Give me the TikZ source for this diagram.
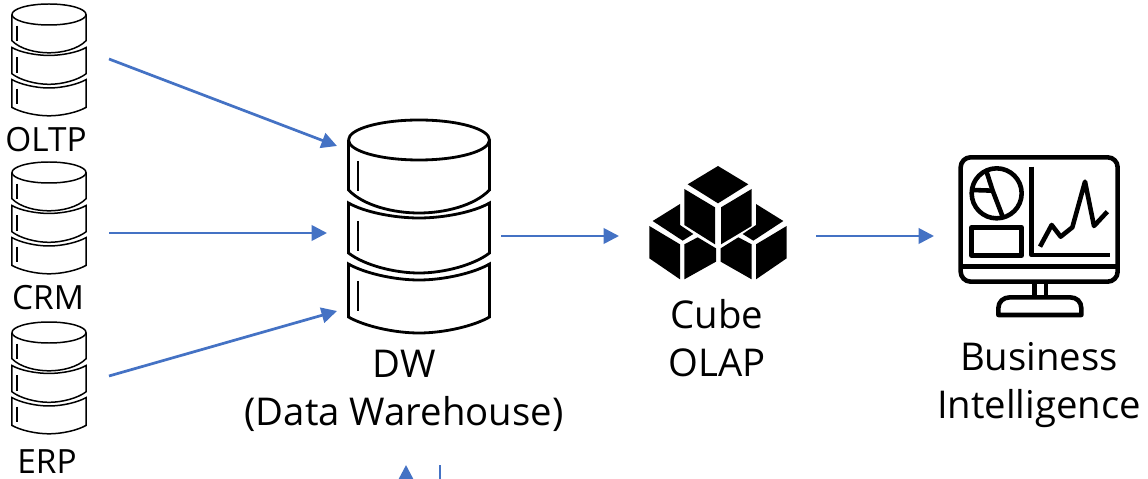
\documentclass[tikz,border=0pt]{standalone}
\usepackage{fontspec}
\setmainfont{Open Sans}
\usetikzlibrary{arrows.meta}
\definecolor{linkblue}{HTML}{4472C4}
\tikzset{
  link/.style={linkblue, line width=1.55pt, -{Triangle[length=.31cm, width=.31cm]}},
  biglabel/.style={font=\fontsize{21.8pt}{27.2pt}\selectfont, align=center, inner sep=0pt},
  smalllabel/.style={font=\fontsize{19pt}{22pt}\selectfont, inner sep=0pt, text depth=0pt},
  screen/.style={line width=2.6pt, line join=round},
  dbstack/.pic={
    \draw (-70.5,0) arc (180:-180:70.5 and 20);  %top
    \draw (-70.5,0) -- (-70.5,50) .. controls (-55,66) and (-25,73) .. (0,73) .. controls (25,73) and (55,66) .. (70.5,50) -- (70.5,0);
    \draw (-70.5,63) .. controls (-55,72) and (-25,78) .. (0,78) .. controls (25,78) and (55,72) .. (70.5,63) -- (70.5,113) .. controls (55,125) and (25,133) .. (0,133) .. controls (-25,133) and (-55,125) .. (-70.5,113) -- cycle;
    \draw (-70.5,124) .. controls (-55,133) and (-25,140) .. (0,140) .. controls (25,140) and (55,133) .. (70.5,124) -- (70.5,177) .. controls (55,186) and (25,193) .. (0,193) .. controls (-25,193) and (-55,186) .. (-70.5,177) -- cycle;
    \foreach \y in {21,81,141}
      \draw (-61,\y) -- (-61,\y+30);  %ticks
  }
}
\begin{document}
\begin{tikzpicture}[x=.02cm, y=-.02cm]
  \useasboundingbox (0,0) rectangle (1148,479);
  \clip (0,0) rectangle (1148,479);

  \pic[scale=.525, line width=.85pt] at (49,14.5) {dbstack};
  \pic[scale=.525, line width=.85pt] at (49,172.5) {dbstack};
  \pic[scale=.525, line width=.85pt] at (49,332.5) {dbstack};
  \pic[line width=1.6pt] at (419,140) {dbstack};

  \node[smalllabel] (oltp) at (46,139) {OLTP};
  \node[smalllabel] (crm) at (48,297) {CRM};
  \node[smalllabel] (erp) at (47,462) {ERP};
  \node[biglabel] (dw) at (404,391) {DW\\(Data Warehouse)};
  \node[biglabel] (cube) at (717,338) {Cube\\OLAP};
  \node[biglabel] (bi) at (1039,385) {Business\\Intelligence};

  % cubes
  \begin{scope}[shift={(630,150)}, x=.00667cm, y=-.00667cm]
    \fill (264,48) -- (355,103) -- (264,160) -- (173,103) -- cycle;
    \fill (163,117) -- (255,172) -- (255,283) -- (163,225) -- cycle;
    \fill (273,172) -- (365,117) -- (365,228) -- (273,283) -- cycle;
    \fill (150,162) -- (150,225) -- (190,252) -- (158,272) -- (68,213) -- cycle;
    \fill (58,228) -- (150,283) -- (150,388) -- (58,325) -- cycle;
    \fill (163,283) -- (203,262) -- (258,295) -- (258,335) -- (163,388) -- cycle;
    \fill (378,162) -- (378,225) -- (338,252) -- (370,272) -- (460,213) -- cycle;
    \fill (272,295) -- (325,262) -- (365,283) -- (365,388) -- (272,335) -- cycle;
    \fill (378,283) -- (470,228) -- (470,325) -- (378,388) -- cycle;
  \end{scope}

  % monitor
  \begin{scope}[shift={(940,140)}, x=.00667cm, y=-.00667cm, screen]
    \draw[rounded corners=.2cm] (62,52) rectangle (533,425);
    \draw (62,380) -- (533,380);
    \draw (283,425) -- (283,470);
    \draw (318,425) -- (318,470);
    \draw (175,525) -- (175,505) .. controls (175,485) and (190,472) .. (210,472) -- (390,472) .. controls (410,472) and (424,485) .. (424,505) -- (424,525) -- cycle;
    \draw (170,160) circle (75);
    \draw (138,90) -- (158,152) -- (188,230);
    \draw (95,150) -- (158,152);
    \draw (95,262) rectangle (245,347);
    \draw (275,80) -- (275,345) -- (510,345);
    \draw (300,320) -- (335,255) -- (362,290) -- (397,262) -- (435,125) -- (462,258) -- (502,215);
  \end{scope}

  \coordinate (oltpout) at (109,59);
  \coordinate (crmout) at (109,233);
  \coordinate (erpout) at (109,376);
  \coordinate (dwintop) at (337,146);
  \coordinate (dwinmid) at (327,233);
  \coordinate (dwinbot) at (337,311);
  \coordinate (dwout) at (501,236);
  \coordinate (cubein) at (619,236);
  \coordinate (cubeout) at (816,236);
  \coordinate (biin) at (934,236);
  \coordinate (upfrom) at (406,500);
  \coordinate (upto) at (406,465);
  \coordinate (stubtop) at (440,465);
  \coordinate (stubend) at (440,490);

  \draw[link] (oltpout) -- (dwintop);
  \draw[link] (crmout) -- (dwinmid);
  \draw[link] (erpout) -- (dwinbot);
  \draw[link] (dwout) -- (cubein);
  \draw[link] (cubeout) -- (biin);
  \draw[link] (upfrom) -- (upto);
  \draw[linkblue, line width=1.55pt] (stubtop) -- (stubend);
\end{tikzpicture}
\end{document}
